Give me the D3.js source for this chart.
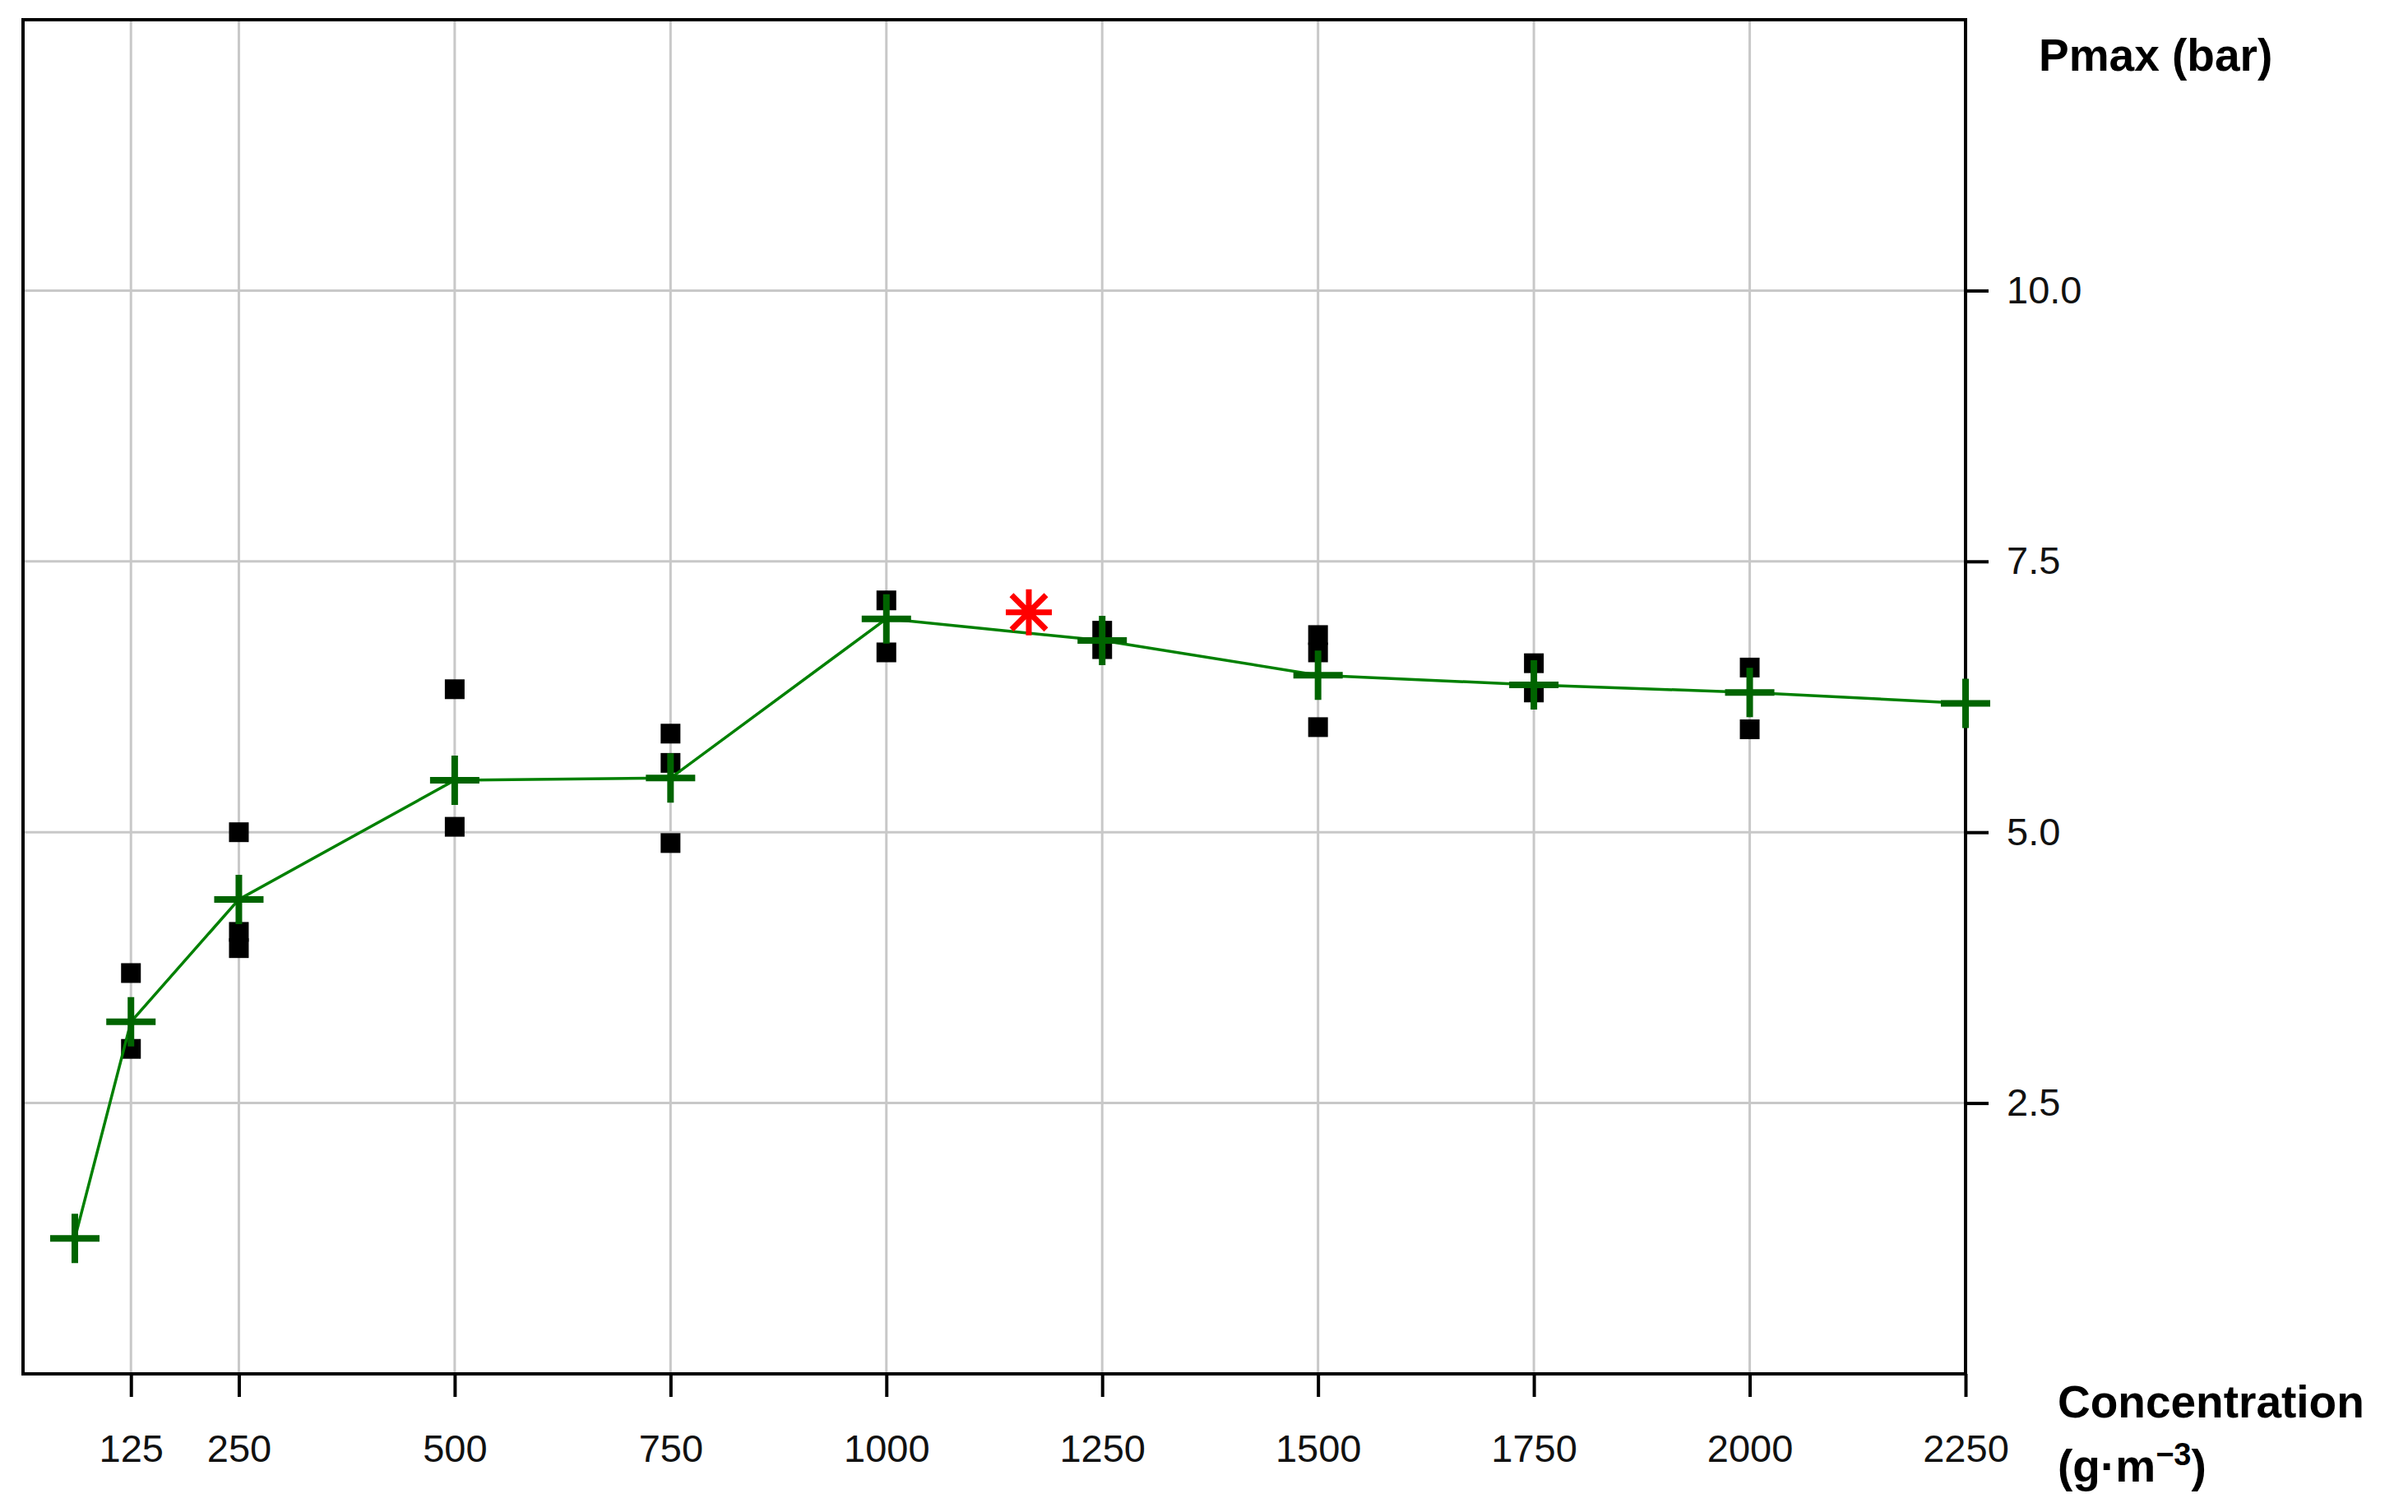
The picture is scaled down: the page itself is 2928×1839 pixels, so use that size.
<!DOCTYPE html>
<html>
<head>
  <meta charset="utf-8"/>
  <script src="https://d3js.org/d3.v7.min.js"></script>
  <style>
    html, body { margin: 0; background: #fff; }
    svg { display: block; }
    text { font-family: "Liberation Sans", Arial, sans-serif; }
  </style>
</head>
<body>
<svg id="chart" width="2928" height="1839"></svg>
<script>
const xTicks = [125, 250, 500, 750, 1000, 1250, 1500, 1750, 2000, 2250];
const yTicks = [2.5, 5.0, 7.5, 10.0];

// mean curve
const meanConc = [60, 125, 250, 500, 750, 1000, 1250, 1500, 1750, 2000, 2250];
const meanP    = [1.25, 3.25, 4.38, 5.48, 5.5, 6.97, 6.77, 6.45, 6.36, 6.29, 6.19];

// individual test results
const testConc = [125, 125, 250, 250, 250, 500, 500, 750, 750, 750, 1000, 1000,
                  1250, 1250, 1500, 1500, 1500, 1750, 1750, 2000, 2000];
const testP    = [3.7, 3.0, 5.0, 4.08, 3.93, 6.32, 5.05, 5.91, 5.64, 4.9, 7.14, 6.66,
                  6.86, 6.69, 6.82, 6.66, 5.97, 6.56, 6.29, 6.52, 5.95];

// maximum
const maxConc = [1165];
const maxP = [7.03];

const L = 28, R = 2390, T = 24, B = 1671;
const svg = d3.select("#chart");
const x = d3.scaleLinear().domain([0, 2250]).range([L, R]);
const y = d3.scaleLinear().domain([0, 12.5]).range([B, T]);

// grid
svg.append("g").selectAll("line").data(xTicks.slice(0, -1)).join("line")
  .attr("x1", d => x(d)).attr("x2", d => x(d)).attr("y1", T).attr("y2", B)
  .attr("stroke", "#c8c8c8").attr("stroke-width", 3);
svg.append("g").selectAll("line").data(yTicks).join("line")
  .attr("x1", L).attr("x2", R).attr("y1", d => y(d)).attr("y2", d => y(d))
  .attr("stroke", "#c8c8c8").attr("stroke-width", 3);

// axes
const xAxis = svg.append("g").attr("transform", `translate(0,${B})`)
  .call(d3.axisBottom(x).tickValues(xTicks).tickSize(28).tickPadding(46).tickFormat(d3.format("d")));
const yAxis = svg.append("g").attr("transform", `translate(${R},0)`)
  .call(d3.axisRight(y).tickValues(yTicks).tickSize(28).tickPadding(22).tickFormat(d3.format(".1f")));
[xAxis, yAxis].forEach(a => {
  a.select(".domain").remove();
  a.selectAll(".tick line").attr("stroke", "#000").attr("stroke-width", 4);
  a.selectAll(".tick text").attr("font-size", 47).attr("fill", "#111")
    .attr("font-family", "'Liberation Sans', Arial, sans-serif");
});

// frame
svg.append("rect").attr("x", L).attr("y", T).attr("width", R - L).attr("height", B - T)
  .attr("fill", "none").attr("stroke", "#000").attr("stroke-width", 4);

// test points
svg.append("g").selectAll("rect").data(testConc.map((c, i) => [c, testP[i]])).join("rect")
  .attr("x", d => x(d[0]) - 12).attr("y", d => y(d[1]) - 12)
  .attr("width", 24).attr("height", 24).attr("fill", "#000");

// mean line
const green = "#006400";
svg.append("path").datum(meanConc.map((c, i) => [c, meanP[i]]))
  .attr("d", d3.line().x(d => x(d[0])).y(d => y(d[1])))
  .attr("fill", "none").attr("stroke", "#008000").attr("stroke-width", 3.5);
svg.append("g").selectAll("path").data(meanConc.map((c, i) => [c, meanP[i]])).join("path")
  .attr("d", d => { const px = x(d[0]), py = y(d[1]), s = 30;
    return `M${px - s},${py}H${px + s}M${px},${py - s}V${py + s}`; })
  .attr("stroke", green).attr("stroke-width", 8);

// maximum asterisk
svg.append("g").selectAll("path").data(maxConc.map((c, i) => [c, maxP[i]])).join("path")
  .attr("d", d => { const px = x(d[0]), py = y(d[1]), s = 28, k = s * 0.75;
    return `M${px - s},${py}H${px + s}M${px},${py - s}V${py + s}` +
      `M${px - k},${py - k}L${px + k},${py + k}M${px - k},${py + k}L${px + k},${py - k}`; })
  .attr("stroke", "#ff0000").attr("stroke-width", 7);

// labels
svg.append("text").attr("x", 2479).attr("y", 86).attr("font-size", 55)
  .attr("font-weight", "bold").text("Pmax (bar)");
svg.append("text").attr("x", 2502).attr("y", 1724).attr("font-size", 55)
  .attr("font-weight", "bold").text("Concentration");
const t2 = svg.append("text").attr("x", 2502).attr("y", 1802).attr("font-size", 55)
  .attr("font-weight", "bold");
t2.append("tspan").text("(g·m");
t2.append("tspan").attr("dy", -20).attr("font-size", 38).text("−3");
t2.append("tspan").attr("dy", 20).text(")");
</script>
</body>
</html>
